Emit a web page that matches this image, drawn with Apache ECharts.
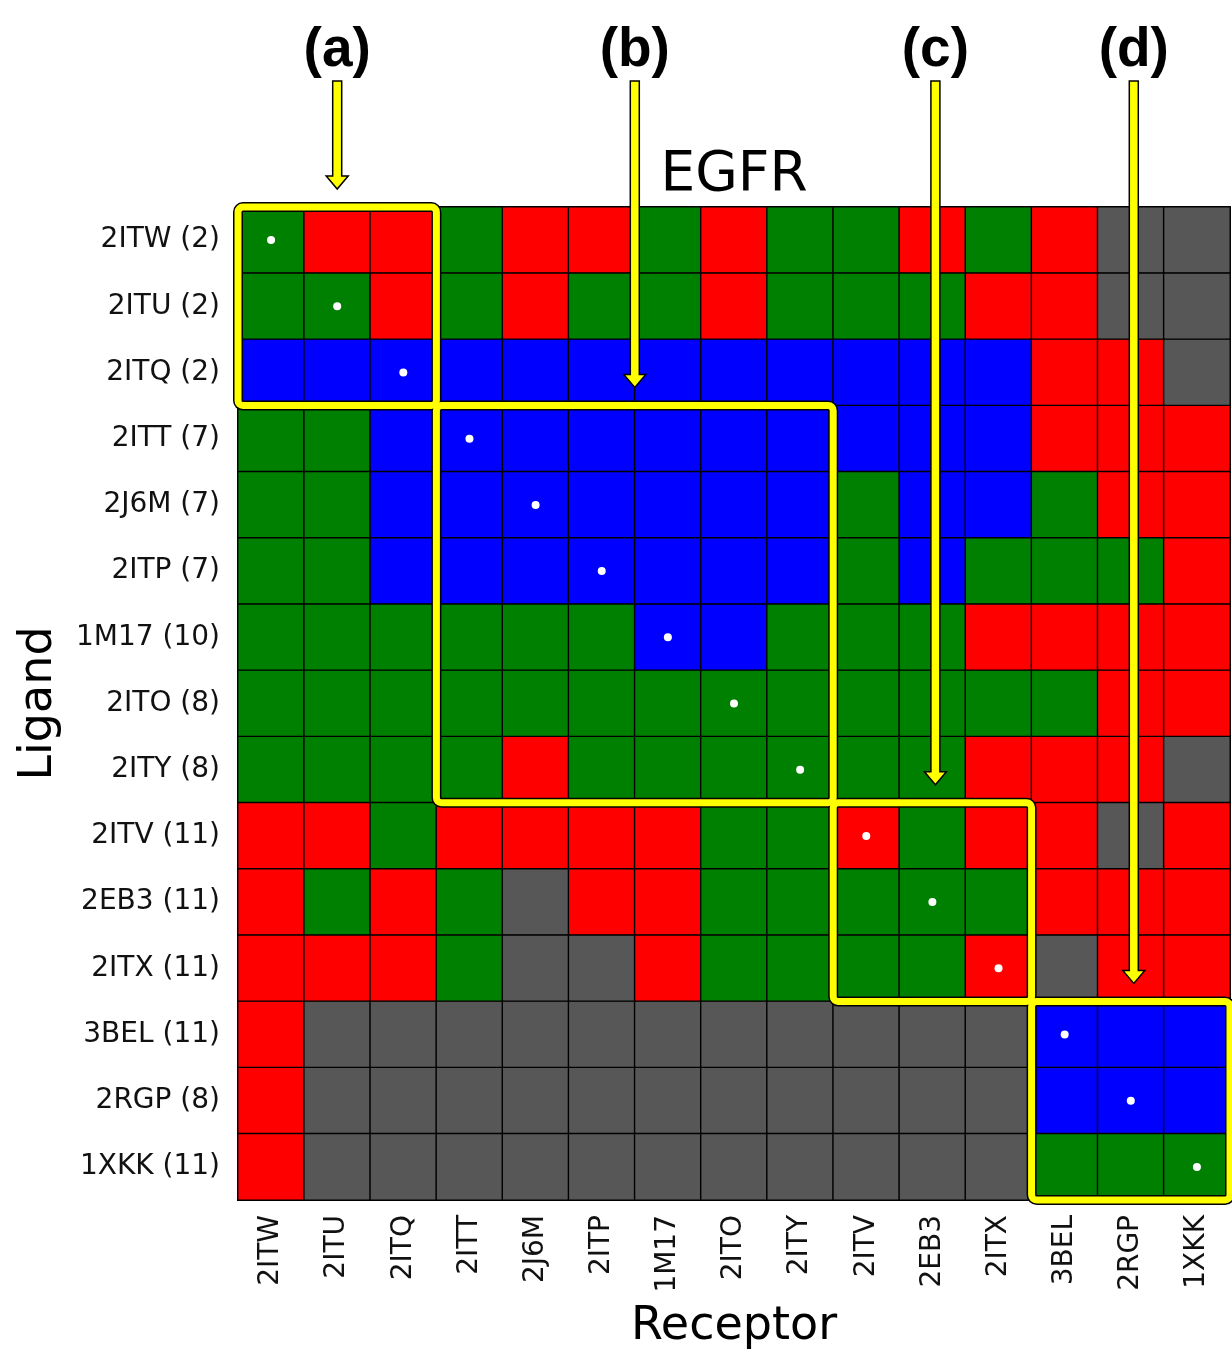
<!DOCTYPE html>
<html>
<head>
<meta charset="utf-8">
<script src="https://cdn.jsdelivr.net/npm/echarts@6/dist/echarts.min.js"></script>
<style>
html, body {margin: 0; padding: 0; background: #fff;}
#main {width: 1232px; height: 1353px;}
</style>
</head>
<body>
<div id="main"></div>
<script>
const pdbIds = ['2ITW', '2ITU', '2ITQ', '2ITT', '2J6M', '2ITP', '1M17', '2ITO', '2ITY', '2ITV', '2EB3', '2ITX', '3BEL', '2RGP', '1XKK'];
const ligandCounts = [2, 2, 2, 7, 7, 7, 10, 8, 8, 11, 11, 11, 11, 8, 11];
// one string per ligand (row), one letter per receptor (column)
// K = no result, R = red, G = green, B = blue
const cellRows = [
    'GRRGRRGRGGRGRKK',
    'GGRGRGGRGGGRRKK',
    'BBBBBBBBBBBBRRK',
    'GGBBBBBBBBBBRRR',
    'GGBBBBBBBGBBGRR',
    'GGBBBBBBBGBGGGR',
    'GGGGGGBBGGGRRRR',
    'GGGGGGGGGGGGGRR',
    'GGGGRGGGGGGRRRK',
    'RRGRRRRGGRGRRKR',
    'RGRGKRRGGGGGRRR',
    'RRRGKKRGGGGRKRR',
    'RKKKKKKKKKKKBBB',
    'RKKKKKKKKKKKBBB',
    'RKKKKKKKKKKKGGG'
];
const codes = ['K', 'R', 'G', 'B'];
const codeColors = ['#575757', '#ff0000', '#008000', '#0000ff'];
// highlighted blocks on the diagonal
const groupLabels = ['(a)', '(b)', '(c)', '(d)'];
const groupFirst = [0, 3, 9, 12];
const groupLast = [2, 8, 11, 14];

const ligandLabels = pdbIds.map((id, i) => `${id} (${ligandCounts[i]})`);

let cells = [];
cellRows.forEach((row, r) => {
    row.split('').forEach((c, col) => {
        cells.push([col, r, codes.indexOf(c)]);
    });
});
let selfDock = pdbIds.map((id, i) => [i, i]);
let groups = groupFirst.map((f, i) => [f, groupLast[i]]);

const FONT = 'DejaVu Sans';
const YELLOW = '#ffff00';

function blockRect(api) {
    let a = api.coord([api.value(0), api.value(0)]);
    let b = api.coord([api.value(1), api.value(1)]);
    let s = api.size([1, 1]);
    return {
        x: Math.min(a[0], b[0]) - s[0] / 2,
        y: Math.min(a[1], b[1]) - s[1] / 2,
        width: Math.abs(b[0] - a[0]) + s[0],
        height: Math.abs(b[1] - a[1]) + s[1],
        r: 5
    };
}

function renderOutline(params, api) {
    return {type: 'rect', shape: blockRect(api), style: {fill: null, stroke: '#000', lineWidth: 10}};
}

function renderYellow(params, api) {
    return {type: 'rect', shape: blockRect(api), style: {fill: null, stroke: YELLOW, lineWidth: 7}};
}

function renderArrow(params, api) {
    let a = api.coord([api.value(0), api.value(0)]);
    let b = api.coord([api.value(1), api.value(1)]);
    let s = api.size([1, 1]);
    let gridTop = api.coord([0, 0])[1] - s[1] / 2;
    let cx = (a[0] + b[0]) / 2 + (params.dataIndex > 1 ? 3 : 0);
    let boxTop = Math.min(a[1], b[1]) - s[1] / 2;
    let tip = boxTop - 18;
    let top = gridTop - 126;
    let head = 13;
    return {
        type: 'group',
        children: [
            {
                type: 'polygon',
                shape: {points: [
                    [cx - 4.5, top], [cx + 4.5, top], [cx + 4.5, tip - head], [cx + 11, tip - head],
                    [cx, tip], [cx - 11, tip - head], [cx - 4.5, tip - head]
                ]},
                style: {fill: YELLOW, stroke: '#000', lineWidth: 1.5}
            },
            {
                type: 'text',
                x: cx, y: gridTop - 156,
                style: {
                    text: groupLabels[params.dataIndex],
                    font: 'bold 55px "Liberation Sans", Arial, sans-serif',
                    fill: '#000', align: 'center', verticalAlign: 'middle'
                }
            }
        ]
    };
}

let chart = echarts.init(document.getElementById('main'));
chart.setOption({
    backgroundColor: '#fff',
    animation: false,
    grid: {
        left: 238, top: 207, width: 992, height: 993, outerBoundsMode: 'none',
        show: true, borderColor: '#000', borderWidth: 1.5, backgroundColor: 'transparent'
    },
    graphic: [{
        type: 'text', x: 734, y: 176, z: 100,
        style: {text: 'EGFR', font: '55px "DejaVu Sans"', fill: '#000', align: 'center', verticalAlign: 'middle'}
    }],
    xAxis: {
        type: 'category',
        data: pdbIds,
        name: 'Receptor',
        nameLocation: 'middle',
        nameGap: 104,
        nameTextStyle: {fontFamily: FONT, fontSize: 46, color: '#000'},
        axisLine: {show: true, lineStyle: {color: '#000', width: 1.5}},
        axisTick: {show: true, inside: true, alignWithLabel: true, length: 5, lineStyle: {color: '#000'}},
        axisLabel: {rotate: 90, margin: 15, fontFamily: FONT, fontSize: 28, color: '#111'},
        splitLine: {show: false}
    },
    yAxis: {
        type: 'category',
        data: ligandLabels,
        inverse: true,
        name: 'Ligand',
        nameLocation: 'middle',
        nameGap: 176,
        nameTextStyle: {fontFamily: FONT, fontSize: 46, color: '#000'},
        axisLine: {show: true, lineStyle: {color: '#000', width: 1.5}},
        axisTick: {show: true, inside: true, alignWithLabel: true, length: 5, lineStyle: {color: '#000'}},
        axisLabel: {margin: 18, fontFamily: FONT, fontSize: 28, color: '#111'},
        splitLine: {show: false}
    },
    visualMap: {
        show: false,
        type: 'piecewise',
        dimension: 2,
        seriesIndex: 0,
        pieces: codeColors.map((c, i) => ({value: i, color: c}))
    },
    series: [
        {
            type: 'heatmap',
            data: cells,
            itemStyle: {borderColor: '#000', borderWidth: 1.4},
            emphasis: {disabled: true}
        },
        {
            type: 'scatter',
            data: selfDock,
            symbolSize: 8,
            itemStyle: {color: '#fff', opacity: 1},
            z: 3
        },
        {type: 'custom', data: groups, renderItem: renderOutline, clip: false, z: 4},
        {type: 'custom', data: groups, renderItem: renderYellow, clip: false, z: 5},
        {type: 'custom', data: groups, renderItem: renderArrow, clip: false, z: 6}
    ]
});
</script>
</body>
</html>
